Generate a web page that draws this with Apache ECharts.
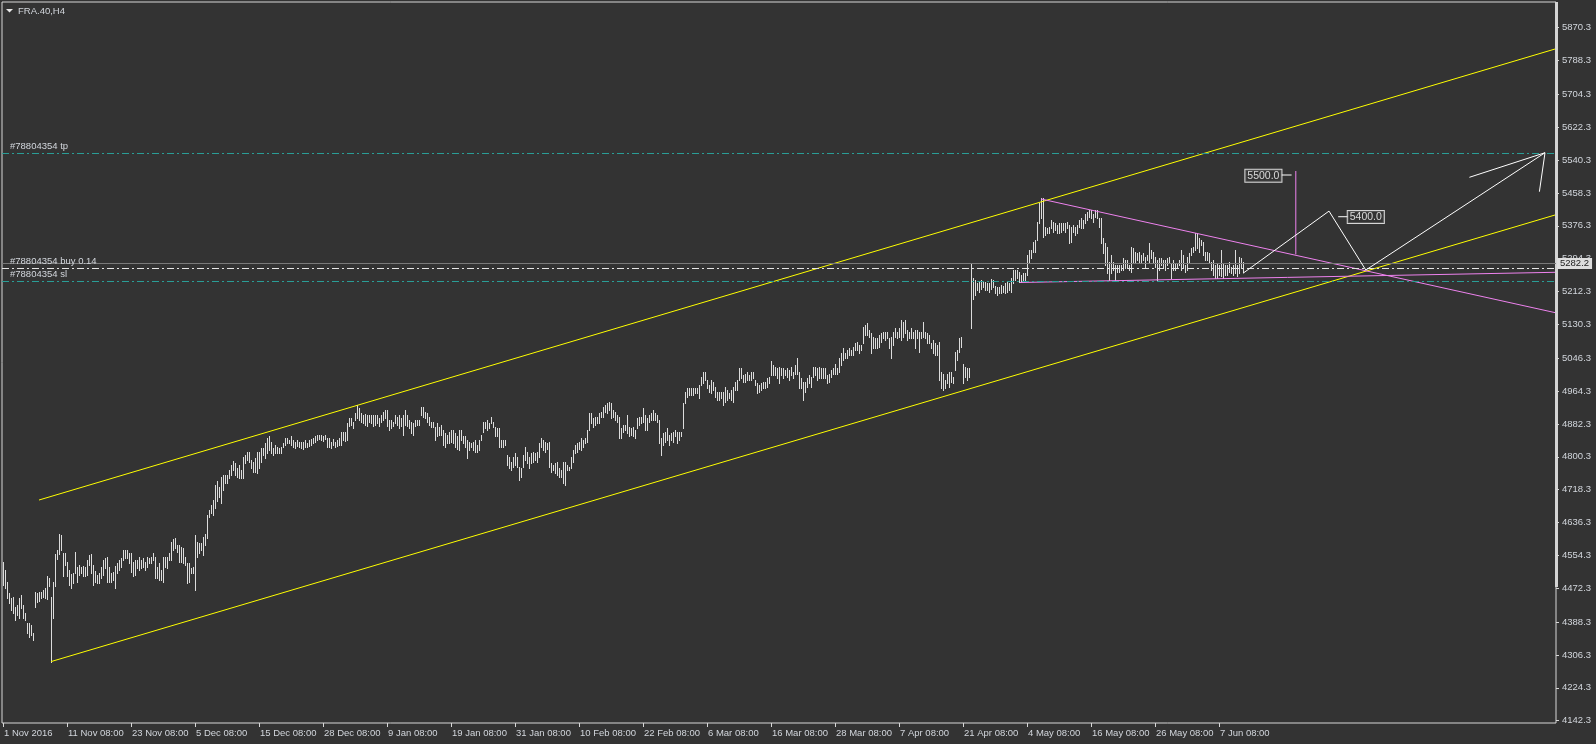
<!DOCTYPE html>
<html><head><meta charset="utf-8">
<style>html,body{margin:0;padding:0;background:#333333;}#c{width:1596px;height:744px;}</style>
<script src="https://cdn.jsdelivr.net/npm/echarts@6/dist/echarts.min.js"></script>
</head><body><div id="c"></div>
<script>
const timeLabels = ['1 Nov 2016','11 Nov 08:00','23 Nov 08:00','5 Dec 08:00','15 Dec 08:00','28 Dec 08:00','9 Jan 08:00','19 Jan 08:00','31 Jan 08:00','10 Feb 08:00','22 Feb 08:00','6 Mar 08:00','16 Mar 08:00','28 Mar 08:00','7 Apr 08:00','21 Apr 08:00','4 May 08:00','16 May 08:00','26 May 08:00','7 Jun 08:00'];
const yTicks = [5870.3,5788.3,5704.3,5622.3,5540.3,5458.3,5376.3,5294.3,5212.3,5130.3,5046.3,4964.3,4882.3,4800.3,4718.3,4636.3,4554.3,4472.3,4388.3,4306.3,4224.3,4142.3];
const barHigh = [
4539,4518,4489,4460,4448,4452,4427,4431,4448,4456,
4431,4410,4385,4385,4381,4360,4464,4460,4464,4464,
4468,4474,4502,4497,4452,4487,4558,4568,4608,4605,
4560,4560,4539,4517,4508,4510,4564,4526,4531,4526,
4528,4526,4543,4556,4558,4531,4516,4506,4510,4526,
4543,4547,4551,4526,4510,4514,4528,4535,4543,4547,
4568,4568,4568,4560,4560,4539,4543,4543,4551,4543,
4547,4539,4551,4547,4551,4560,4551,4526,4535,4518,
4551,4551,4551,4560,4589,4595,4597,4581,4581,4576,
4572,4551,4535,4535,4522,4526,4605,4589,4585,4585,
4601,4608,4655,4668,4680,4693,4730,4741,4726,4751,
4755,4755,4755,4768,4780,4791,4784,4772,4780,4768,
4801,4805,4813,4813,4792,4788,4797,4813,4813,4822,
4822,4834,4846,4851,4838,4822,4830,4826,4822,4826,
4836,4846,4846,4842,4852,4842,4838,4842,4838,4838,
4838,4842,4834,4842,4844,4846,4851,4855,4855,4855,
4852,4855,4846,4846,4838,4844,4838,4842,4846,4863,
4863,4863,4884,4896,4896,4888,4910,4930,4921,4909,
4905,4907,4905,4905,4905,4905,4905,4905,4896,4905,
4913,4917,4917,4892,4892,4888,4905,4900,4905,4896,
4905,4917,4905,4892,4888,4884,4892,4892,4892,4925,
4925,4913,4909,4900,4888,4888,4875,4884,4875,4880,
4867,4859,4855,4863,4867,4867,4859,4851,4867,4867,
4851,4851,4842,4838,4834,4838,4842,4830,4842,4855,
4888,4888,4892,4884,4900,4888,4875,4871,4871,4842,
4842,4842,4805,4801,4788,4801,4809,4801,4776,4772,
4805,4826,4813,4801,4809,4813,4809,4813,4834,4846,
4842,4838,4836,4838,4786,4780,4786,4788,4772,4767,
4788,4788,4780,4776,4801,4817,4830,4834,4838,4846,
4842,4846,4867,4909,4909,4896,4900,4900,4909,4913,
4925,4930,4934,4938,4934,4917,4913,4905,4900,4871,
4880,4880,4905,4875,4871,4875,4867,4896,4900,4900,
4921,4905,4896,4905,4909,4917,4909,4905,4892,4846,
4859,4863,4871,4855,4859,4863,4867,4863,4863,4863,
4934,4963,4971,4971,4973,4973,4971,4971,4979,5000,
5013,5013,4992,4979,4992,4988,4975,4963,4963,4963,
4963,4975,4967,4959,4967,4975,4988,4992,5021,5021,
5004,5008,5013,5004,5013,5013,4992,4984,4979,4984,
4988,4988,4996,5000,5038,5029,5025,5021,5025,5021,
5021,5017,5021,5017,5025,5013,5029,5046,5013,4996,
4988,4988,4996,5004,5000,5025,5025,5021,5025,5021,
5021,5021,5004,5008,5017,5021,5033,5021,5046,5058,
5071,5058,5067,5071,5067,5075,5083,5087,5079,5079,
5125,5129,5133,5117,5108,5100,5096,5096,5104,5108,
5112,5112,5112,5096,5100,5112,5121,5112,5121,5141,
5137,5141,5117,5112,5121,5112,5117,5117,5112,5112,
5137,5112,5108,5104,5083,5092,5083,5079,5087,5013,
5008,4992,5008,5013,5013,5000,5062,5067,5096,5100,
5033,5025,5021,5021,5283,5245,5241,5233,5237,5241,
5237,5235,5233,5233,5243,5241,5226,5225,5225,5229,
5226,5233,5237,5233,5245,5266,5266,5266,5262,5254,
5258,5259,5304,5316,5316,5337,5341,5387,5432,5445,
5445,5374,5370,5374,5391,5387,5383,5378,5383,5383,
5383,5383,5387,5378,5374,5378,5374,5378,5391,5395,
5391,5407,5412,5416,5416,5407,5416,5416,5395,5395,
5345,5333,5324,5287,5304,5287,5279,5279,5279,5279,
5295,5291,5291,5279,5324,5320,5312,5308,5312,5304,
5308,5299,5304,5333,5316,5312,5299,5291,5295,5295,
5291,5291,5295,5299,5283,5291,5283,5283,5291,5316,
5304,5279,5299,5308,5320,5324,5358,5358,5345,5341,
5337,5312,5312,5308,5287,5291,5279,5283,5279,5316,
5283,5279,5279,5287,5274,5279,5316,5279,5299,5295,
5286];
const barLow = [
4481,4472,4448,4435,4418,4410,4393,4406,4398,4423,
4398,4393,4362,4352,4356,4344,4425,4439,4442,4448,
4452,4448,4445,4477,4289,4398,4477,4545,4558,4568,
4502,4531,4502,4481,4472,4485,4510,4489,4506,4510,
4502,4502,4506,4531,4510,4481,4487,4485,4485,4497,
4506,4522,4489,4489,4489,4493,4472,4510,4518,4526,
4543,4547,4547,4535,4514,4502,4506,4522,4518,4522,
4526,4518,4526,4535,4536,4543,4497,4497,4493,4493,
4489,4526,4522,4543,4543,4568,4572,4564,4539,4539,
4535,4531,4485,4487,4510,4510,4468,4551,4560,4568,
4556,4581,4597,4651,4659,4655,4672,4689,4701,4684,
4718,4734,4734,4747,4755,4768,4755,4751,4747,4747,
4747,4784,4792,4788,4772,4763,4763,4759,4772,4788,
4805,4797,4809,4817,4809,4805,4809,4809,4809,4809,
4826,4830,4834,4834,4830,4826,4822,4827,4826,4822,
4819,4826,4826,4827,4830,4834,4838,4842,4844,4842,
4841,4844,4824,4826,4822,4830,4826,4827,4830,4830,
4842,4841,4842,4876,4880,4871,4892,4896,4892,4888,
4884,4880,4877,4888,4884,4876,4880,4884,4876,4888,
4892,4896,4876,4867,4871,4876,4884,4880,4871,4876,
4855,4880,4876,4871,4859,4855,4876,4880,4880,4905,
4900,4896,4888,4880,4875,4875,4842,4851,4855,4855,
4830,4826,4834,4834,4838,4834,4826,4821,4817,4842,
4834,4826,4797,4817,4826,4817,4813,4813,4817,4842,
4863,4871,4867,4871,4884,4875,4851,4851,4826,4826,
4826,4830,4780,4772,4767,4776,4780,4776,4743,4751,
4776,4792,4784,4772,4784,4788,4792,4788,4801,4826,
4817,4813,4821,4776,4763,4767,4759,4755,4751,4751,
4734,4730,4767,4767,4772,4788,4809,4813,4821,4817,
4826,4834,4838,4867,4884,4875,4880,4884,4884,4900,
4900,4913,4909,4917,4896,4900,4892,4888,4846,4846,
4863,4867,4859,4851,4855,4851,4846,4871,4880,4884,
4888,4867,4867,4888,4892,4892,4892,4888,4834,4805,
4830,4838,4842,4830,4842,4838,4851,4834,4842,4851,
4871,4934,4950,4954,4954,4954,4959,4959,4946,4979,
4984,4992,4971,4963,4959,4967,4950,4942,4942,4946,
4930,4938,4942,4946,4942,4938,4967,4967,4992,4996,
4988,4988,4992,4992,4992,4996,4979,4959,4963,4967,
4971,4971,4975,4984,5004,5004,5004,4996,4984,5004,
4996,5004,5000,4992,5004,4996,5008,5008,4971,4971,
4942,4963,4975,4984,4975,5000,5004,4992,4996,4996,
4996,4996,4984,4988,5000,5008,5008,5008,5013,5029,
5042,5046,5046,5054,5054,5054,5067,5067,5058,5067,
5083,5104,5104,5100,5058,5071,5071,5071,5075,5087,
5096,5092,5096,5071,5046,5079,5100,5096,5100,5092,
5100,5108,5092,5096,5096,5096,5071,5096,5062,5096,
5100,5096,5083,5083,5071,5058,5054,5054,4992,4971,
4967,4971,4984,4975,4988,4984,5017,5042,5062,5075,
4984,5000,4992,5000,5121,5195,5204,5216,5212,5220,
5225,5216,5216,5212,5220,5225,5208,5204,5208,5208,
5212,5208,5212,5216,5212,5233,5241,5245,5235,5237,
5241,5241,5254,5287,5295,5312,5312,5341,5383,5395,
5349,5353,5358,5358,5370,5362,5366,5358,5358,5362,
5366,5362,5370,5333,5337,5362,5353,5358,5374,5370,
5370,5383,5391,5399,5395,5387,5399,5395,5374,5333,
5308,5279,5258,5241,5258,5266,5241,5262,5262,5266,
5266,5270,5274,5266,5262,5287,5287,5291,5287,5283,
5291,5274,5291,5283,5295,5283,5274,5241,5266,5279,
5270,5266,5279,5283,5245,5266,5266,5270,5279,5266,
5270,5262,5266,5287,5304,5312,5316,5320,5312,5328,
5304,5291,5291,5287,5266,5254,5245,5245,5254,5250,
5245,5254,5254,5262,5258,5254,5258,5250,5258,5270,
5262];
const channelUpper = [[18, 4692.6], [776, 5817.2]];
const channelLower = [[24, 4289.7], [776, 5403.3]];
const wedgeUpper = [[519, 5443.2], [776, 5159.9]];
const wedgeLower = [[508.5, 5235], [776, 5260.4]];
const targetMarker = [[646.4, 5513], [646.4, 5305]];
const projection = [[620, 5258], [663, 5413], [681.4, 5266], [771, 5558.6]];
const arrowHead = [[733.2, 5497.3], [771, 5558.6], [768.2, 5461.4]];
const tpLevel = 5557.1, buyLevel = 5271.1, slLevel = 5238.2, bidLevel = 5282.2;
const priceTags = [[630.2, 5501, '5500.0'], [681.4, 5398, '5400.0']];
const tagLinks = [[[639, 5503], [644.3, 5503]], [[667.6, 5399], [672.6, 5399]]];

const FONT = '"Liberation Sans", Arial, sans-serif';
const TXT = '#d2d6dc';
const TEAL = '#2a9d96';
const chart = echarts.init(document.getElementById('c'));
const barData = barHigh.map((h, i) => [i, barLow[i], h]);
const labelIdx = timeLabels.map((_, k) => k * 32);

function seg(data, color, z) {
  return {type: 'line', data: data, symbol: 'none', silent: true, z: z || 3, animation: false,
    lineStyle: {color: color, width: 1}};
}
function levelLabel(text) {
  return {show: true, position: 'insideStartTop', formatter: text, color: TXT, fontSize: 9.5,
    fontFamily: FONT, distance: 2, padding: [0, 0, 0, 6]};
}

const series = [
  {type: 'custom', data: barData, encode: {x: 0, y: [1, 2]}, silent: true, z: 3,
    renderItem: function (params, api) {
      const x = api.value(0), lo = api.value(1), hi = api.value(2);
      const a = api.coord([x, hi]), b = api.coord([x, lo]);
      const px = Math.floor(a[0] + 0.01);
      const y1 = Math.round(a[1]), y2 = Math.round(b[1]);
      return {type: 'rect', shape: {x: px, y: y1, width: 1, height: Math.max(1, y2 - y1 + 1)},
        style: {fill: '#dcdcdc'}};
    }},
  {type: 'line', data: [], silent: true, z: 2,
    markLine: {symbol: ['none', 'none'], silent: true, animation: false, data: [
      {yAxis: bidLevel, lineStyle: {color: '#7a7a7a', type: 'solid', width: 1},
        label: {show: true, position: 'end', formatter: '5282.2', color: '#222', backgroundColor: '#dedede',
          padding: [1, 3, 0, 3], distance: 1, fontSize: 9.5, fontFamily: FONT}},
      {yAxis: tpLevel, lineStyle: {color: TEAL, type: [7, 3, 2, 3], width: 1}, label: levelLabel('#78804354 tp')},
      {yAxis: buyLevel, lineStyle: {color: '#e6e6e6', type: [7, 3, 2, 3], width: 1}, label: levelLabel('#78804354 buy 0.14')},
      {yAxis: slLevel, lineStyle: {color: TEAL, type: [7, 3, 2, 3], width: 1}, label: levelLabel('#78804354 sl')}
    ]}},
  seg(channelUpper, '#ffff00', 4),
  seg(channelLower, '#ffff00', 4),
  seg(wedgeUpper, '#ee82ee', 4),
  seg(wedgeLower, '#ee82ee', 4),
  seg(targetMarker, '#ee82ee', 4),
  seg(projection, '#ffffff', 5),
  seg(arrowHead, '#ffffff', 5),
  seg(tagLinks[0], '#ffffff', 5),
  seg(tagLinks[1], '#ffffff', 5),
  {type: 'scatter', silent: true, z: 6, symbolSize: 1, itemStyle: {color: 'rgba(0,0,0,0)'},
    data: priceTags.map(t => ({value: [t[0], t[1]], name: t[2]})),
    label: {show: true, position: 'inside', formatter: p => p.name, color: '#ffffff', fontSize: 10.5,
      fontFamily: FONT, backgroundColor: '#333333', borderColor: '#ffffff', borderWidth: 1, padding: [1, 2, 0, 2]}}
];

chart.setOption({
  backgroundColor: '#333333',
  animation: false,
  grid: {left: 2, top: 2, width: 1554, height: 721, show: true, borderColor: '#d8d8d8', borderWidth: 1,
    backgroundColor: 'transparent'},
  xAxis: {type: 'value', min: -0.5, max: 776.5, axisLine: {show: false, onZero: false}, splitLine: {show: false},
    axisTick: {show: true, customValues: labelIdx, length: 4, lineStyle: {color: '#d8d8d8'}},
    axisLabel: {customValues: labelIdx, formatter: v => timeLabels[Math.round(v / 32)], align: 'left',
      margin: 5, color: TXT, fontSize: 9.5, fontFamily: FONT, padding: [0, 0, 0, 1]}},
  yAxis: {type: 'value', position: 'right', min: 4136.6, max: 5934.4, axisLine: {show: false, onZero: false},
    splitLine: {show: false},
    axisTick: {show: true, customValues: yTicks, length: 3, lineStyle: {color: '#d8d8d8'}},
    axisLabel: {customValues: yTicks, formatter: v => v.toFixed(1), margin: 6, color: TXT,
      fontSize: 9.5, fontFamily: FONT}},
  graphic: [
    {type: 'polygon', shape: {points: [[6, 9], [13, 9], [9.5, 12.5]]}, style: {fill: '#e8e8e8'}},
    {type: 'text', x: 18, y: 11, style: {text: 'FRA.40,H4', fill: TXT, font: '9.5px ' + FONT, verticalAlign: 'middle'}},
    {type: 'rect', shape: {x: 1555, y: 2, width: 3, height: 585}, style: {fill: '#d4d4d4'}}
  ],
  series: series
});
</script>
</body></html>
